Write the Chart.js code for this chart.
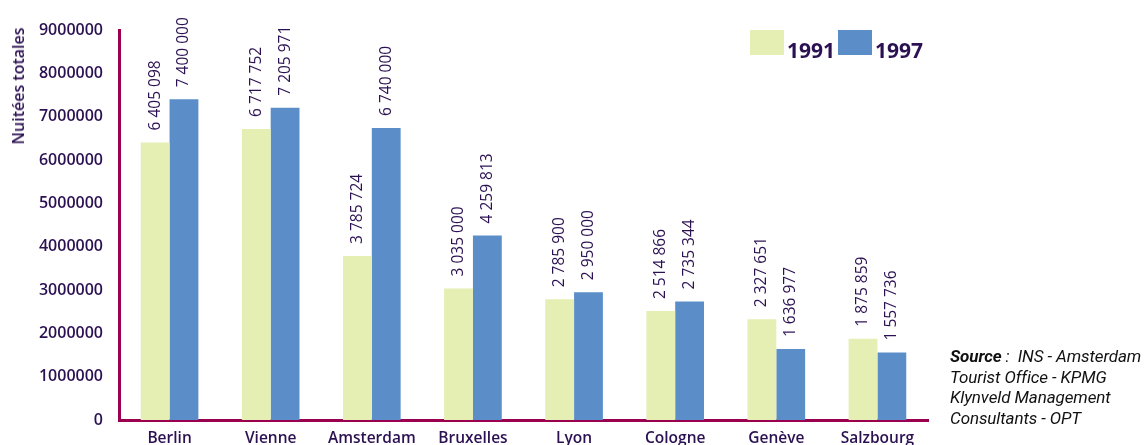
<!DOCTYPE html>
<html>
<head>
<meta charset="utf-8">
<script src="https://cdn.jsdelivr.net/npm/chart.js@4/dist/chart.umd.min.js"></script>
<style>
  html, body { margin: 0; padding: 0; background: #fff; }
  #wrap { position: relative; width: 1148px; height: 445px; }
  #yTitle {
    position: absolute; left: 18px; top: 86px;
    transform: translate(-50%, -50%) rotate(-90deg);
    font: 600 16px "Open Sans", sans-serif; color: #2b1052; white-space: nowrap;
  }
  #legend { position: absolute; left: 750px; top: 30px; display: flex; align-items: flex-end;
    font: 700 21px "Open Sans", sans-serif; color: #2b1052; }
  #legend .sw { width: 34px; height: 25px; margin-right: 3px; }
  #legend span.t { line-height: 21px; margin-right: 3px; position: relative; top: 6px; }
  #source { position: absolute; left: 950px; top: 346px;
    font: italic 17px Roboto, sans-serif; color: #111; line-height: 20.7px; letter-spacing: -0.1px; }
</style>
</head>
<body>
<div id="wrap">
  <canvas id="chart" width="1148" height="445"></canvas>
  <div id="yTitle">Nuitées totales</div>
  <div id="legend">
    <div class="sw" style="background:#e5eeb3"></div><span class="t">1991</span>
    <div class="sw" style="background:#5b8ec9"></div><span class="t">1997</span>
  </div>
  <div id="source"><b>Source</b> :&nbsp; INS - Amsterdam<br>Tourist Office - KPMG<br>Klynveld Management<br>Consultants - OPT</div>
</div>
<script>
const cities = ["Berlin", "Vienne", "Amsterdam", "Bruxelles", "Lyon", "Cologne", "Genève", "Salzbourg"];
const nights1991 = [6405098, 6717752, 3785724, 3035000, 2785900, 2514866, 2327651, 1875859];
const nights1997 = [7400000, 7205971, 6740000, 4259813, 2950000, 2735344, 1636977, 1557736];

const textColor = "#2b1052";
const axisColor = "#9b0050";

function fmt(n) {
  return String(n).replace(/\B(?=(\d{3})+(?!\d))/g, " ");
}

// rotated value labels above each bar
const valueLabels = {
  id: "valueLabels",
  afterDatasetsDraw(chart) {
    const ctx = chart.ctx;
    ctx.save();
    ctx.font = "500 15.5px 'Open Sans', sans-serif";
    ctx.fillStyle = textColor;
    ctx.textAlign = "left";
    ctx.textBaseline = "middle";
    chart.data.datasets.forEach((ds, i) => {
      chart.getDatasetMeta(i).data.forEach((bar, j) => {
        ctx.save();
        ctx.translate(bar.x, bar.y - 12);
        ctx.rotate(-Math.PI / 2);
        ctx.fillText(fmt(ds.data[j]), 0, 0);
        ctx.restore();
      });
    });
    ctx.restore();
  }
};

new Chart(document.getElementById("chart"), {
  type: "bar",
  data: {
    labels: cities,
    datasets: [
      { label: "1991", data: nights1991, backgroundColor: "#e5eeb3" },
      { label: "1997", data: nights1997, backgroundColor: "#5b8ec9" }
    ]
  },
  options: {
    responsive: false,
    animation: false,
    layout: { padding: { top: 30, right: 220, left: 0, bottom: 0 } },
    plugins: { legend: { display: false }, tooltip: { enabled: false } },
    datasets: { bar: { categoryPercentage: 0.57, barPercentage: 1 } },
    scales: {
      x: {
        grid: { display: false },
        border: { display: true, color: axisColor, width: 3 },
        ticks: { color: textColor, font: { family: "Open Sans", size: 15.5, weight: "600" }, padding: 1, maxRotation: 0 },
        afterFit(scale) { scale.height = 25; }
      },
      y: {
        min: 0,
        max: 9000000,
        grid: { display: false },
        border: { display: true, color: axisColor, width: 3 },
        ticks: {
          stepSize: 1000000,
          color: textColor,
          font: { family: "Open Sans", size: 16, weight: "600" },
          padding: 8,
          callback: (v) => String(v)
        },
        afterFit(scale) { scale.width = 119; }
      }
    }
  },
  plugins: [valueLabels]
});
</script>
</body>
</html>
